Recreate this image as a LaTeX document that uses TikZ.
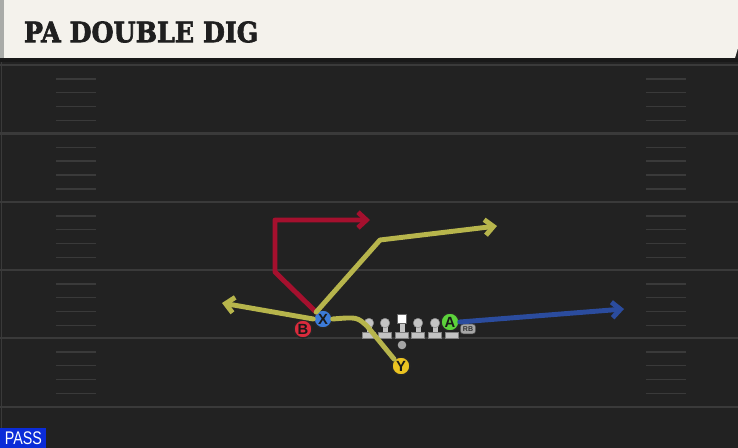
\documentclass[tikz,border=0pt]{standalone}
\usepackage{fontspec}
\usepackage{graphicx}
\setsansfont{Liberation Sans}
\newfontfamily\titlefont[BoldFeatures={FakeBold=2.5}]{DejaVu Serif}
\usetikzlibrary{arrows.meta, positioning, calc, backgrounds}
\definecolor{fieldbg}{HTML}{222222}
\definecolor{fieldline}{HTML}{3A3A3A}
\definecolor{headbg}{HTML}{F4F2EC}
\definecolor{headside}{HTML}{A9ABA8}
\definecolor{routeyellow}{HTML}{B7B54C}
\definecolor{routered}{HTML}{A5102E}
\definecolor{routeblue}{HTML}{2B4C9E}
\definecolor{plblue}{HTML}{3C7BD8}
\definecolor{plred}{HTML}{DA2B3C}
\definecolor{plyellow}{HTML}{EBC321}
\definecolor{plgreen}{HTML}{5CD23B}
\definecolor{olgray}{HTML}{C4C4C4}
\definecolor{passblue}{HTML}{0B2CD8}

\begin{document}
\begin{tikzpicture}[x=0.025cm, y=-0.025cm,
    player/.style={circle, draw=black!85, line width=1pt, fill=#1, minimum size=0.45cm, inner sep=0pt, font=\sffamily\bfseries\fontsize{10.5}{10.5}\selectfont, text=black!90},
    route/.style={draw=#1, line width=3.5pt, line cap=round, line join=round, -{Straight Barb[length=2.1mm, width=3.9mm]}},
    yardline/.style={fieldline, line width=1.6pt},
    hash/.style={fieldline, line width=1.2pt},
]
\useasboundingbox (0,0) rectangle (738,448);

% players and line
\node[player=plblue] (X) at (323,319) {X};
\node[player=plred] (B) at (303,329) {B};
\node[player=plyellow] (Y) at (401,366) {Y};
\node[player=plgreen] (A) at (450,322) {A};
\node[rectangle, rounded corners=2pt, fill=gray!70, draw=black!70, line width=0.4pt, minimum width=0.38cm, minimum height=0.24cm, inner sep=0pt, font=\sffamily\bfseries\fontsize{5}{5}\selectfont, text=black!80] (rb) at (468,329) {RB};

% routes
\coordinate (redcut) at (275,272);
\coordinate (redup) at (275,220);
\coordinate (redend) at (370,220);
\coordinate (postbreak) at (380,240);
\coordinate (postend) at (497,226);
\coordinate (ybend) at (367,326);
\coordinate (flatend) at (222,303);
\coordinate (blueend) at (624,309);
\draw[route=routered] (X.135) -- (redcut) -- (redup) -- (redend);
\draw[route=routeyellow] (X.135) -- (postbreak) -- (postend);
\draw[route=routeyellow, -] (Y.135) -- (ybend) .. controls (357,317) .. (X.east);
\draw[route=routeyellow] (X.west) -- (flatend);
\draw[route=routeblue] (A.east) -- (blueend);

\begin{scope}[on background layer]
\fill[fieldbg] (0,0) rectangle (738,448);
\fill[headbg] (0,0) -- (738,0) -- (738,48) -- (735,58) -- (0,58) -- cycle;
\fill[headside] (0,0) rectangle (4,58);
\fill[black!90] (0,58) rectangle (738,62);
\draw[fieldline, line width=1pt] (1.5,62) -- (1.5,448);
\foreach \y in {65,133.5,202,270,338,407} {
    \draw[yardline] (0,\y) -- (738,\y);
}
\foreach \y in {65,133.5,202,270,338} {
    \foreach \d in {14,27.5,41.5,55.5} {
        \draw[hash] (56,\y+\d) -- (96,\y+\d);
        \draw[hash] (646,\y+\d) -- (686,\y+\d);
    }
}
% linemen
\foreach \x in {369,385,418,435} {
    \fill[olgray] (\x-2.5,323) rectangle (\x+2.5,333);
    \fill[olgray, draw=black!50, line width=0.3pt] (\x,323) circle (4.8);
}
\fill[olgray] (399.5,323) rectangle (404.5,333);
\fill[white, draw=black!60, line width=0.3pt] (397.5,314.5) rectangle (406.5,323.5);
\foreach \x in {369,385,402,418,435,452} {
    \fill[olgray, draw=black!50, line width=0.3pt] (\x-6.5,332) rectangle (\x+6.5,338);
}
\fill[gray!70] (402,345) circle (4.3);
\end{scope}

\node[anchor=west, font=\titlefont\bfseries\fontsize{20}{20}\selectfont, text=black!88] (title) at (19,32) {\scalebox{0.9}[1]{PA DOUBLE DIG}};
\node[anchor=south west, fill=passblue, text=white, minimum width=1.15cm, minimum height=0.5cm, inner sep=0pt, font=\sffamily\fontsize{13}{13}\selectfont] (play) at (0,448) {\scalebox{0.78}[1]{PASS}};
\end{tikzpicture}
\end{document}
